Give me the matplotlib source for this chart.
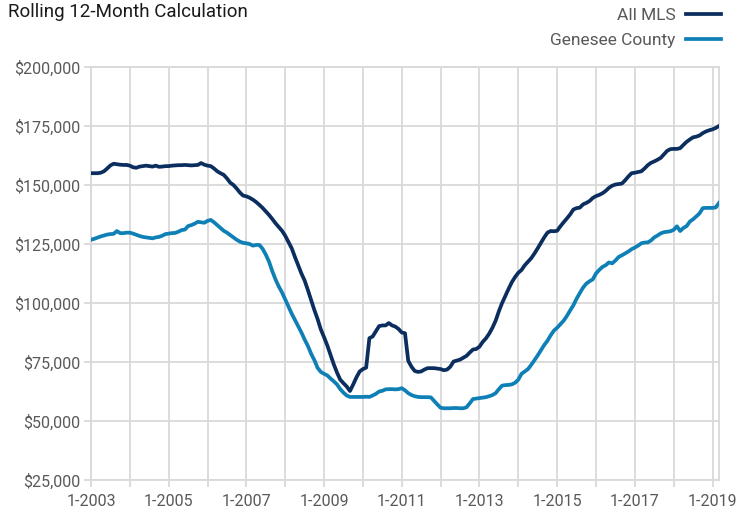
import numpy as np
import matplotlib.pyplot as plt
from matplotlib.ticker import FuncFormatter

# monthly rolling 12-month median price, Jan 2003 .. Mar 2019 (in $1,000)
start_year = 2003
all_mls = [
    155.0, 155.0, 155.0, 155.2, 155.8, 157.0, 158.3, 159.0, 158.8, 158.6, 158.5, 158.5,
    158.2, 157.5, 157.3, 157.8, 158.0, 158.2, 158.0, 157.8, 158.2, 157.7, 157.8, 158.0,
    158.0, 158.2, 158.3, 158.4, 158.4, 158.5, 158.4, 158.3, 158.4, 158.5, 159.3, 158.6,
    158.2, 158.0, 157.0, 155.8, 155.0, 154.3, 152.8, 151.0, 150.0, 148.5, 146.8, 145.5,
    145.2, 144.6, 143.8, 142.8, 141.6, 140.3, 138.8, 137.3, 135.6, 133.8, 132.2, 130.6,
    128.5, 125.8, 123.2, 119.5, 116.0, 112.5, 109.5, 105.5, 101.2, 97.0, 93.2, 88.8,
    85.5, 82.0, 78.0, 74.0, 70.5, 67.5, 66.0, 64.6, 62.7, 65.5, 68.5, 71.0,
    72.0, 72.6, 85.1, 85.8, 88.0, 90.2, 90.5, 90.5, 91.5, 90.5, 90.0, 89.0,
    87.5, 87.2, 75.5, 73.0, 71.2, 70.8, 71.0, 71.8, 72.4, 72.4, 72.4, 72.2,
    72.0, 71.5, 71.8, 73.0, 75.2, 75.6, 76.0, 76.8, 77.6, 79.0, 80.3, 80.5,
    81.5, 83.5, 85.0, 87.0, 89.5, 92.5, 96.5, 100.0, 103.0, 106.0, 108.8, 111.0,
    112.8, 114.0, 116.0, 117.5, 119.0, 121.0, 123.2, 125.5, 127.8, 129.8, 130.5, 130.4,
    130.6, 132.5, 134.2, 135.8, 137.5, 139.6, 140.2, 140.4, 141.8, 142.4, 143.2, 144.5,
    145.3, 145.8, 146.5, 147.5, 148.8, 149.7, 150.2, 150.4, 150.6, 152.0, 153.6, 155.0,
    155.2, 155.5, 155.8, 157.0, 158.4, 159.4, 160.0, 160.7, 161.5, 163.0, 164.5, 165.2,
    165.3, 165.3, 165.6, 167.0, 168.3, 169.3, 170.2, 170.5, 171.0, 172.0, 172.7, 173.2,
    173.6, 174.2, 175.0,
]
genesee = [
    126.8, 127.2, 127.7, 128.2, 128.6, 129.0, 129.2, 129.3, 130.5, 129.6, 129.6, 129.8,
    129.8, 129.4, 128.9, 128.4, 128.0, 127.8, 127.6, 127.4, 127.8, 128.0, 128.5, 129.2,
    129.4, 129.6, 129.7, 130.2, 130.9, 131.1, 132.6, 133.0, 133.6, 134.4, 134.2, 134.0,
    134.8, 135.2, 134.2, 133.0, 131.8, 130.6, 129.8, 128.8, 127.8, 126.8, 126.0, 125.5,
    125.3, 125.0, 124.3, 124.6, 124.6, 123.0, 120.5, 117.5, 113.5, 110.0, 107.0, 104.5,
    101.5, 98.5, 95.5, 92.8, 90.0, 87.5, 84.5, 81.8, 78.5, 75.8, 72.5, 70.8,
    70.0, 69.3, 68.0, 66.8, 65.5, 63.5, 62.0, 60.8, 60.2, 60.2, 60.2, 60.2,
    60.2, 60.3, 60.2, 60.8, 61.5, 62.5, 62.8, 63.4, 63.5, 63.5, 63.4, 63.5,
    63.9, 63.0, 61.8, 61.0, 60.5, 60.2, 60.1, 60.1, 60.1, 60.0, 58.5, 57.0,
    55.6, 55.4, 55.4, 55.4, 55.5, 55.5, 55.4, 55.4, 55.8, 57.5, 59.3, 59.5,
    59.7, 59.9, 60.1, 60.5, 61.0, 61.8, 63.5, 65.0, 65.2, 65.3, 65.5, 66.2,
    67.5, 70.0, 71.0, 72.0, 73.8, 75.8, 77.8, 80.0, 82.2, 84.0, 86.3, 88.3,
    89.5, 91.0, 92.5, 94.5, 96.8, 99.0, 101.8, 104.2, 106.5, 108.2, 109.2, 110.0,
    112.5, 114.0, 115.3, 116.0, 117.2, 116.8, 118.0, 119.5, 120.2, 121.0, 121.8, 122.8,
    123.5, 124.3, 125.3, 125.6, 125.7, 126.5, 127.8, 128.6, 129.5, 130.0, 130.2, 130.4,
    131.0, 132.5, 130.5, 131.8, 132.6, 134.5, 135.5, 136.7, 138.0, 140.2, 140.3, 140.3,
    140.3, 140.5, 142.4,
]
series_names = ['All MLS', 'Genesee County']
y_ticks = [25000, 50000, 75000, 100000, 125000, 150000, 175000, 200000]
label_years = list(range(2003, 2020, 2))

navy = '#0c2e5f'
teal = '#0f80b6'
grid_c = '#d9d9d9'
text_c = '#595959'

plt.rcParams['font.family'] = ['Roboto', 'DejaVu Sans']

months = np.arange(len(all_mls))
fig = plt.figure(figsize=(7.38, 5.15), dpi=100)
ax = fig.add_axes([91 / 738, 1 - 480 / 515, (719 - 91) / 738, (480 - 67) / 515])

ax.plot(months, np.array(all_mls) * 1000, color=navy, lw=2.7, label=series_names[0],
        solid_joinstyle='round', zorder=3)
ax.plot(months, np.array(genesee) * 1000, color=teal, lw=2.7, label=series_names[1],
        solid_joinstyle='round', zorder=3)

ax.set_xlim(0, len(all_mls) - 1)
ax.set_ylim(25000, 200000)
ax.set_yticks(y_ticks)
ax.yaxis.set_major_formatter(FuncFormatter(lambda v, p: f'${v:,.0f}'))
ax.set_xticks([(y - start_year) * 12 for y in label_years])
ax.set_xticklabels([f'1-{y}' for y in label_years])
ax.set_xticks([(y - start_year) * 12 for y in range(2004, 2020, 2)], minor=True)

ax.grid(True, which='both', color=grid_c, lw=1.3, zorder=0)
ax.tick_params(which='both', length=5, width=1.3, color=grid_c, labelcolor=text_c,
               labelsize=11.5, pad=3)
ax.tick_params(axis='x', pad=5)
for s in ax.spines.values():
    s.set_color(grid_c)
    s.set_linewidth(1.3)

fig.text(8 / 738, 1 - 3 / 515, 'Rolling 12-Month Calculation', ha='left', va='top',
         fontsize=13.5, color='#1a1a1a')
ax.legend(loc='upper right', bbox_to_anchor=(721 / 738, 1 - 8 / 515),
          bbox_transform=fig.transFigure, frameon=False, markerfirst=False,
          handlelength=2.0, handletextpad=0.6, labelspacing=0.55, fontsize=12.5,
          labelcolor=text_c, borderaxespad=0, borderpad=0)

plt.savefig('out.png', dpi=100)
